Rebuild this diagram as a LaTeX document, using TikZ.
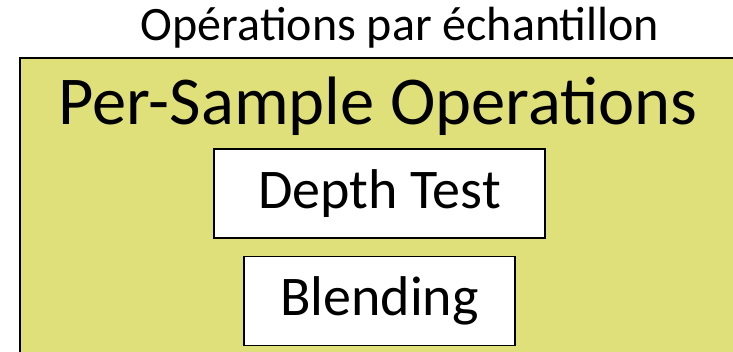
\documentclass[tikz,border=0pt]{standalone}
\usepackage{fontspec}
\setmainfont{Carlito}
\usepackage{xcolor}
\usepackage{tikz}
\usetikzlibrary{positioning}
\definecolor{stageyellow}{RGB}{224,224,122}
\tikzstyle{stage} = [draw=black, line width=1.6pt, fill=stageyellow]
\tikzstyle{block} = [draw=black, line width=1.4pt, fill=white,
	minimum height = 89pt,
	inner sep = 0pt]
\newcommand{\bigfont}[1]{\fontsize{#1}{#1}\selectfont}

\begin{document}
\begin{tikzpicture}[x=1pt, y=1pt]
		
			\useasboundingbox (0,0) rectangle (733,351);
			\clip (0,0) rectangle (733,351);
			
			\node (title) [anchor=base] at (400,310) {\bigfont{48}Opérations par échantillon};
			
			\path [stage] (20,293) rectangle (745,-10);
			\node (stagename) [anchor=base] at (378,226) {\bigfont{68.5}Per-Sample Operations};
			
			\node (depth) [block, minimum width=331pt] at (379.5,157.5) {\bigfont{56}Depth Test};
			\node (blend) [block, minimum width=271pt, below=17pt of depth] {\bigfont{56}Blending};
		\end{tikzpicture}
\end{document}
